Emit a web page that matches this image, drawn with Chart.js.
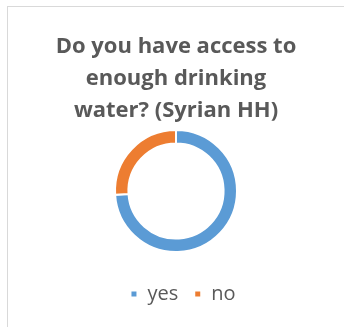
<!DOCTYPE html>
<html>
<head>
<meta charset="utf-8">
<script src="https://cdn.jsdelivr.net/npm/chart.js@4/dist/chart.umd.min.js"></script>
<style>
  html, body { margin: 0; padding: 0; background: #fff; }
  #frame { position: absolute; left: 7px; top: 6px; width: 337px; height: 321px;
           border-left: 1px solid #d9d9d9; border-top: 1px solid #d9d9d9; }
  #wrap { position: absolute; left: 8px; top: 7px; width: 336px; height: 320px; }
</style>
</head>
<body>
<div id="frame"></div>
<div id="wrap"><canvas id="c"></canvas></div>
<script>
const titleLines = ["Do you have access to", "enough drinking", "water? (Syrian HH)"];
const categories = ["yes", "no"];
const values = [74, 26];
const colors = ["#5B9BD5", "#ED7D31"];

const legendShift = {
  id: 'legendShift',
  afterLayout(chart) {
    const l = chart.legend;
    if (l) { l.left += 7; l.right += 7; }
  }
};

new Chart(document.getElementById('c'), {
  type: 'doughnut',
  data: {
    labels: categories,
    datasets: [{
      data: values,
      backgroundColor: colors,
      borderColor: '#ffffff',
      borderWidth: 2,
      hoverOffset: 0
    }]
  },
  plugins: [legendShift],
  options: {
    responsive: true,
    maintainAspectRatio: false,
    animation: false,
    radius: 61,
    cutout: '78%',
    layout: { padding: { bottom: 13 } },
    plugins: {
      tooltip: { enabled: false },
      title: {
        display: true,
        text: titleLines,
        color: '#595959',
        font: { family: 'Open Sans', size: 22, weight: 'bold', lineHeight: 1.4545 },
        padding: { top: 24, bottom: -13 }
      },
      legend: {
        position: 'bottom',
        labels: {
          boxWidth: 7,
          boxHeight: 7,
          color: '#595959',
          font: { family: 'Open Sans', size: 20 },
          padding: 16
        }
      }
    }
  }
});
</script>
</body>
</html>
